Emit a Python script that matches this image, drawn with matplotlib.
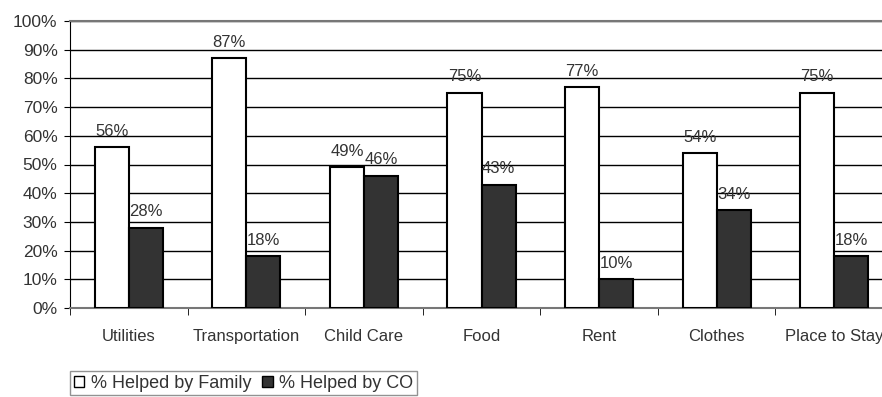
import numpy as np
import matplotlib.pyplot as plt
from matplotlib.patches import Patch

categories = ['Utilities', 'Transportation', 'Child Care', 'Food', 'Rent', 'Clothes', 'Place to Stay']
family = [56, 87, 49, 75, 77, 54, 75]
co = [28, 18, 46, 43, 10, 34, 18]

plt.rcParams['font.family'] = ['Liberation Sans', 'DejaVu Sans']
plt.rcParams['font.size'] = 12
txt = '#333333'

fig = plt.figure(figsize=(8.82, 3.97), dpi=100)
ax = fig.add_axes([70/882, 89/397, 823/882, 287/397])

x = np.arange(len(categories))
w = 0.29
b1 = ax.bar(x - w/2, family, w, color='white', edgecolor='black', linewidth=1.5, zorder=3)
b2 = ax.bar(x + w/2, co, w, color='#333333', edgecolor='black', linewidth=1.5, zorder=3)

# value labels sit a little above each bar
for bars, vals in ((b1, family), (b2, co)):
    for r, v in zip(bars, vals):
        ax.text(r.get_x() + r.get_width()/2, v + 4, f'{v}%', ha='center', va='baseline',
                color=txt, zorder=4)

ax.set_xlim(-0.5, len(categories) - 0.5)
ax.set_ylim(0, 100)
ax.set_yticks(np.arange(0, 101, 10))
ax.set_yticklabels([f'{v}%' for v in range(0, 101, 10)], color=txt, fontsize=12.5)
ax.yaxis.grid(True, color='black', linewidth=1, zorder=0)
ax.set_axisbelow(True)

ax.set_xticks(x)
ax.set_xticklabels(categories, color=txt)
ax.set_xticks(np.arange(-0.5, len(categories), 1), minor=True)
ax.tick_params(axis='x', which='major', length=0, pad=15)
ax.tick_params(axis='x', which='minor', length=5, direction='out', color='black')
ax.tick_params(axis='y', length=4, direction='out', color='black', pad=5)

ax.spines['right'].set_visible(False)
ax.spines['left'].set_color('black')
ax.spines['top'].set_color('#777777')
ax.spines['top'].set_linewidth(1.5)
ax.spines['bottom'].set_color('#777777')
ax.spines['bottom'].set_linewidth(1.5)

handles = [Patch(facecolor='white', edgecolor='black', linewidth=1),
           Patch(facecolor='#333333', edgecolor='black', linewidth=1)]
leg = fig.legend(handles, ['% Helped by Family', '% Helped by CO'],
                 loc='upper left', bbox_to_anchor=(70/882, 26/397), ncol=2,
                 frameon=True, fancybox=False, handlelength=0.6, handleheight=0.6,
                 handletextpad=0.35, columnspacing=0.6, borderpad=0.2, borderaxespad=0,
                 fontsize=13)
leg.get_frame().set_edgecolor('#777777')
leg.get_frame().set_linewidth(1)
for t in leg.get_texts():
    t.set_color(txt)

fig.savefig('out.png', dpi=100)
